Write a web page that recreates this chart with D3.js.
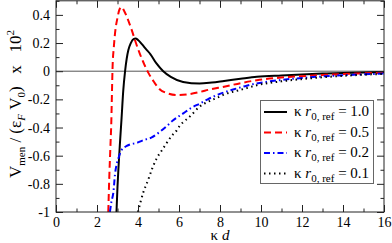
<!DOCTYPE html>
<html><head><meta charset="utf-8">
<script src="https://cdn.jsdelivr.net/npm/d3@7"></script>
<style>body{margin:0;background:#fff;}</style></head>
<body><svg id="c" width="392" height="243"></svg>
<script>
const xTicks = [0,2,4,6,8,10,12,14,16];
const xMinor = [1,3,5,7,9,11,13,15];
const yTicks = [-1,-0.8,-0.6,-0.4,-0.2,0,0.2,0.4];
const yTickLabels = ["-1","-0.8","-0.6","-0.4","-0.2","0","0.2","0.4"];
const yMinor = [-0.9,-0.7,-0.5,-0.3,-0.1,0.1,0.3,0.5];
const seriesNames = ["1.0","0.5","0.2","0.1"];
const curve10 = [[2.95,-1.0],[3.0,-0.82],[3.05,-0.68],[3.12,-0.51],[3.2,-0.33],[3.28,-0.14],[3.37,0.0],[3.45,0.09],[3.53,0.15],[3.65,0.2],[3.78,0.228],[3.88,0.232],[4.0,0.222],[4.2,0.19],[4.4,0.155],[4.6,0.122],[4.9,0.055],[5.23,0.0],[5.6,-0.04],[6.2,-0.076],[7.0,-0.087],[7.6,-0.08],[8.2,-0.069],[9.0,-0.054],[9.8,-0.04],[11,-0.03],[12,-0.023],[13,-0.017],[14,-0.012],[15,-0.009],[16,-0.006]];
const curve05 = [[2.55,-1.0],[2.6,-0.75],[2.65,-0.55],[2.7,-0.35],[2.73,-0.15],[2.76,0.03],[2.82,0.17],[2.88,0.27],[3.0,0.38],[3.1,0.44],[3.2,0.456],[3.32,0.43],[3.5,0.37],[3.7,0.29],[3.9,0.2],[4.1,0.12],[4.3,0.05],[4.5,-0.01],[4.8,-0.08],[5.07,-0.13],[5.4,-0.155],[5.9,-0.17],[6.4,-0.165],[7.0,-0.148],[7.5,-0.13],[8.2,-0.11],[9.0,-0.085],[9.8,-0.064],[11,-0.045],[12,-0.035],[13,-0.027],[14,-0.02],[15,-0.015],[16,-0.01]];
const curve02 = [[2.63,-1.0],[2.7,-0.93],[2.8,-0.86],[2.88,-0.73],[2.96,-0.66],[3.04,-0.62],[3.2,-0.56],[3.4,-0.535],[3.61,-0.52],[3.93,-0.51],[4.26,-0.49],[4.67,-0.47],[5.07,-0.43],[5.4,-0.39],[5.7,-0.35],[6.21,-0.30],[6.6,-0.26],[7.02,-0.23],[7.4,-0.2],[7.84,-0.17],[8.3,-0.145],[8.81,-0.123],[9.3,-0.103],[9.79,-0.087],[11,-0.062],[12,-0.048],[13,-0.037],[14,-0.029],[15,-0.022],[16,-0.017]];
const curve01 = [[4.0,-1.0],[4.26,-0.86],[4.5,-0.77],[4.67,-0.70],[4.91,-0.62],[5.15,-0.565],[5.4,-0.51],[5.64,-0.46],[5.89,-0.42],[6.05,-0.385],[6.3,-0.35],[6.54,-0.32],[7.02,-0.25],[7.45,-0.215],[7.84,-0.19],[8.3,-0.16],[8.81,-0.14],[9.3,-0.12],[9.79,-0.10],[11,-0.072],[12,-0.056],[13,-0.043],[14,-0.033],[15,-0.025],[16,-0.019]];

const FONT = "Liberation Serif";
const svg = d3.select("#c");
const L = 56, R = 384, T = 0.8, B = 212;
const x = d3.scaleLinear().domain([0,16]).range([L,R]);
const y = d3.scaleLinear().domain([-1,0.5]).range([B,T]);

svg.append("defs").append("clipPath").attr("id","clip")
  .append("rect").attr("x",L).attr("y",T).attr("width",R-L).attr("height",B-T);

svg.append("line").attr("x1",L).attr("x2",R).attr("y1",y(0)).attr("y2",y(0))
  .attr("stroke","#555").attr("stroke-width",1);

const line = d3.line().x(d=>x(d[0])).y(d=>y(d[1])).curve(d3.curveMonotoneX);
const g = svg.append("g").attr("clip-path","url(#clip)");
const styles = [
  {data:curve10, color:"#000", dash:null, w:2},
  {data:curve05, color:"#ff0000", dash:"7,4", w:2},
  {data:curve02, color:"#0000ff", dash:"6,3,1.5,3", w:2},
  {data:curve01, color:"#000", dash:"1.5,3.5", w:2}
];
styles.forEach(s=>{
  g.append("path").attr("d",line(s.data)).attr("fill","none")
   .attr("stroke",s.color).attr("stroke-width",s.w)
   .attr("stroke-dasharray",s.dash);
});

const fs = 14;
const ax = svg.append("g").attr("transform",`translate(0,${B})`)
  .call(d3.axisBottom(x).tickValues(xTicks).tickSize(-7).tickPadding(5).tickFormat(d3.format("d")));
const axm = svg.append("g").attr("transform",`translate(0,${B})`)
  .call(d3.axisBottom(x).tickValues(xMinor).tickSize(-3.5).tickFormat(""));
const axt = svg.append("g").attr("transform",`translate(0,${T})`)
  .call(d3.axisTop(x).tickValues(xTicks).tickSize(-7).tickFormat(""));
const axtm = svg.append("g").attr("transform",`translate(0,${T})`)
  .call(d3.axisTop(x).tickValues(xMinor).tickSize(-3.5).tickFormat(""));
const ay = svg.append("g").attr("transform",`translate(${L},0)`)
  .call(d3.axisLeft(y).tickValues(yTicks).tickSize(-7).tickPadding(6).tickFormat((d,i)=>yTickLabels[i]));
const aym = svg.append("g").attr("transform",`translate(${L},0)`)
  .call(d3.axisLeft(y).tickValues(yMinor).tickSize(-3.5).tickFormat(""));
const ayr = svg.append("g").attr("transform",`translate(${R},0)`)
  .call(d3.axisRight(y).tickValues(yTicks).tickSize(-7).tickFormat(""));
const ayrm = svg.append("g").attr("transform",`translate(${R},0)`)
  .call(d3.axisRight(y).tickValues(yMinor).tickSize(-3.5).tickFormat(""));
[ax,axm,axt,axtm,ay,aym,ayr,ayrm].forEach(a=>{
  a.attr("font-family",FONT);
  a.select(".domain").remove();
  a.selectAll("line").attr("stroke","#222");
  a.selectAll("text").attr("font-family",FONT).style("font-family",FONT).attr("font-size",fs).attr("fill","#000");
});

svg.append("rect").attr("x",L).attr("y",T).attr("width",R-L).attr("height",B-T)
  .attr("fill","none").attr("stroke","#222").attr("stroke-width",1);

const xl = svg.append("text").attr("x",220).attr("y",239.5).attr("text-anchor","middle")
  .attr("font-family",FONT).style("font-family",FONT).attr("font-size",15);
xl.append("tspan").text("κ\u00a0");
xl.append("tspan").attr("font-style","italic").text("d");

const yl = svg.append("text").attr("transform",`translate(21,104) rotate(-90)`)
  .attr("text-anchor","middle").attr("font-family",FONT).style("font-family",FONT).attr("font-size",17);
yl.append("tspan").text("V");
yl.append("tspan").attr("font-size",11).attr("dy",4).text("men");
yl.append("tspan").attr("dy",-4).text("\u00a0/\u00a0(ε");
yl.append("tspan").attr("font-size",11).attr("dy",4).attr("font-style","italic").text("F");
yl.append("tspan").attr("dy",-4).text("\u00a0V");
yl.append("tspan").attr("font-size",11).attr("dy",4).text("0");
yl.append("tspan").attr("dy",-4).text(")\u00a0\u00a0\u00a0x\u00a0\u00a0\u00a010");
yl.append("tspan").attr("font-size",11).attr("dy",-7).text("2");

const lg = svg.append("g");
lg.append("rect").attr("x",260.5).attr("y",100.5).attr("width",113).attr("height",83)
  .attr("fill","#fff").attr("stroke","#666").attr("stroke-width",1);
const ly = [112,132.5,153,173.5];
styles.forEach((s,i)=>{
  lg.append("line").attr("x1",264).attr("x2",287).attr("y1",ly[i]).attr("y2",ly[i])
    .attr("stroke",s.color).attr("stroke-width",s.w).attr("stroke-dasharray",s.dash);
  const t = lg.append("text").attr("x",294).attr("y",ly[i]+4).attr("font-family",FONT).style("font-family",FONT).attr("font-size",15);
  t.append("tspan").text("κ\u00a0");
  t.append("tspan").attr("font-style","italic").text("r");
  t.append("tspan").attr("font-size",11).attr("dy",4).text("0,\u00a0ref");
  t.append("tspan").attr("dy",-4).text("\u00a0=\u00a0" + seriesNames[i]);
});
</script></body></html>
